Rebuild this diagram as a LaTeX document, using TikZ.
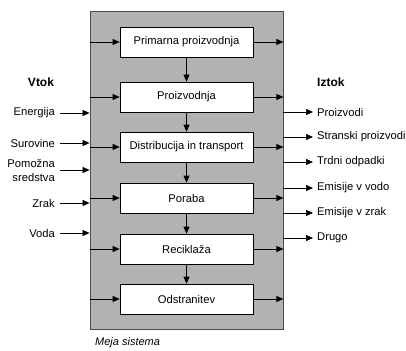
\documentclass[tikz,border=0pt]{standalone}
\usepackage{fontspec}
\setmainfont{Liberation Sans}
\usetikzlibrary{arrows.meta}
\begin{document}
\begin{tikzpicture}[x=1pt,y=-1pt,
  font=\fontsize{11.2}{13}\selectfont,
  stage/.style={draw=black,fill=white,line width=0.7pt,minimum width=133pt,minimum height=30pt,inner sep=0pt},
  flow/.style={line width=0.7pt,-{Triangle[length=7pt,width=6pt]}},
  lbl/.style={inner sep=0pt}]
\useasboundingbox (0,0) rectangle (406,350);
% system boundary
\node[draw=black!70,fill=black!30,line width=0.8pt,minimum width=193pt,minimum height=318pt,inner sep=0pt] (sys) at (186.5,170) {};
% process stages
\node[stage] (s1) at (186.5,42) {Primarna proizvodnja};
\node[stage] (s2) at (186.5,97) {Proizvodnja};
\node[stage] (s3) at (186.5,147) {Distribucija in transport};
\node[stage] (s4) at (186.5,198) {Poraba};
\node[stage] (s5) at (186.5,249) {Reciklaža};
\node[stage] (s6) at (186.5,299) {Odstranitev};
% stage chain
\foreach \a/\b in {s1/s2,s2/s3,s3/s4,s4/s5,s5/s6}
  \draw[flow] (\a.south) -- (\b.north);
% internal feeds and outflows
\foreach \s in {s1,s2,s3,s4,s5,s6}{
  \draw[flow] (sys.west |- \s.west) -- (\s.west);
  \draw[flow] (\s.east) -- (sys.east |- \s.east);
}
% inflows
\node[font=\fontsize{12}{14}\selectfont\bfseries,lbl] (vtok) at (41,82) {Vtok};
\node[lbl,anchor=east] (in1) at (55,113) {Energija};
\node[lbl,anchor=east] (in2) at (55,143) {Surovine};
\node[lbl,anchor=east,align=right] (in3) at (55,170) {Pomožna\\[1pt]sredstva};
\node[lbl,anchor=east] (in4) at (55,203) {Zrak};
\node[lbl,anchor=east] (in5) at (55,233) {Voda};
\foreach \i in {in1,in2,in4,in5}
  \draw[flow] ([xshift=5pt]\i.east) -- (sys.west |- \i.east);
\coordinate (in3e) at (60,170);
\draw[flow] (in3e) -- (sys.west |- in3e);
% outflows
\node[font=\fontsize{12}{14}\selectfont\bfseries,lbl,anchor=west] (iztok) at (317,82) {Iztok};
\node[lbl,anchor=west] (out1) at (317,112) {Proizvodi};
\node[lbl,anchor=west] (out2) at (317,137) {Stranski proizvodi};
\node[lbl,anchor=west] (out3) at (317,162) {Trdni odpadki};
\node[lbl,anchor=west] (out4) at (317,188) {Emisije v vodo};
\node[lbl,anchor=west] (out5) at (317,213) {Emisije v zrak};
\node[lbl,anchor=west] (out6) at (317,238) {Drugo};
\foreach \o in {out1,out2,out3,out4,out5,out6}
  \draw[flow] (sys.east |- \o.west) -- ([xshift=-4pt]\o.west);
% boundary caption
\node[lbl,anchor=west,font=\fontsize{11}{13}\selectfont\itshape] (meja) at (95,343) {Meja sistema};
\end{tikzpicture}
\end{document}
